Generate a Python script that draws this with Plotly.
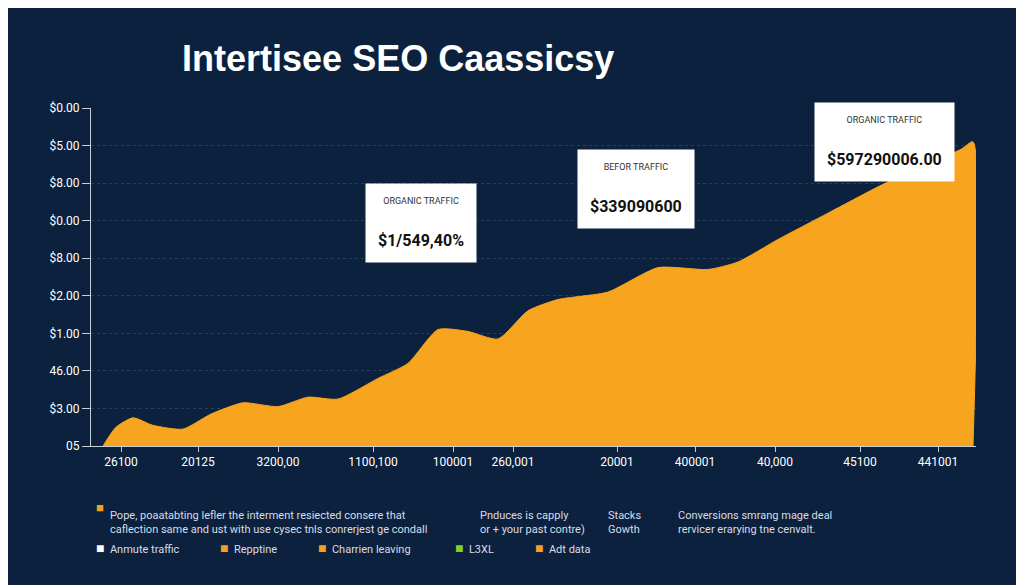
import plotly.graph_objects as go

# traffic curve (x in plot units, y in tick-step units)
curve_x = [12, 25, 42, 62, 92, 120, 152, 187, 217, 247, 287, 317, 347, 377, 407, 437, 467, 517, 567, 617, 647, 687, 737, 787, 827, 870, 882]
curve_y = [0.0, 0.5, 0.75, 0.55, 0.45, 0.85, 1.15, 1.05, 1.3, 1.25, 1.8, 2.2, 3.1, 3.05, 2.85, 3.6, 3.9, 4.1, 4.75, 4.7, 4.9, 5.5, 6.2, 6.9, 7.4, 7.9, 8.1]

y_tick_text = ["05", "$3.00", "46.00", "$1.00", "$2.00", "$8.00", "$0.00", "$8.00", "$5.00", "$0.00"]
x_tick_pos = [30, 107, 187, 282, 362, 422, 526, 604, 684, 769, 847]
x_tick_text = ["26100", "20125", "3200,00", "1100,100", "100001", "260,001", "20001", "400001", "40,000", "45100", "441001"]

callouts = [
    (330, 5.95, "ORGANIC TRAFFIC", "$1/549,40%"),
    (545, 6.85, "BEFOR TRAFFIC", "$339090600"),
    (793, 8.1, "ORGANIC TRAFFIC", "$597290006.00"),
]

notes = [
    (100, "Pope, poaatabting lefler the interment resiected consere that<br>caflection same and ust with use cysec tnls conrerjest ge condall", True),
    (470, "Pnduces is capply<br>or + your past contre)", False),
    (598, "Stacks<br>Gowth", False),
    (668, "Conversions smrang mage deal<br>rervicer erarying tne cenvalt.", False),
]
legend_items = [("Anmute traffic", "#ffffff"), ("Repptine", "#f5a020"), ("Charrien leaving", "#f5a020"),
                ("L3XL", "#7ed321"), ("Adt data", "#f5a020")]
legend_x = [86, 210, 308, 445, 525]

bg = "#0c213d"
fig = go.Figure()
fig.add_trace(go.Scatter(x=curve_x + [882], y=curve_y + [0], fill="tozeroy", mode="lines",
                         line=dict(color="#f7a41e", width=1, shape="spline", smoothing=0.6),
                         fillcolor="#f7a41e", hoverinfo="skip"))

for cx, cy, head, val in callouts:
    fig.add_annotation(x=cx, y=cy, text=f"<span style='font-size:9px;color:#333'>{head}</span><br><br><b>{val}</b>",
                       showarrow=False, bgcolor="white", borderpad=12, font=dict(color="#111", size=16, family="Roboto"))

for px_, txt, dot in notes:
    fig.add_annotation(xref="paper", yref="paper", x=(px_ - 83) / 885, y=-0.225, xanchor="left", yanchor="middle",
                       text=txt, showarrow=False, align="left", font=dict(color="#d8dde6", size=11, family="Roboto"))
fig.add_annotation(xref="paper", yref="paper", x=(86 - 83) / 885, y=-0.18, xanchor="left", yanchor="middle",
                   text="■", showarrow=False, font=dict(color="#f5a020", size=13))
for lx, (name, col) in zip(legend_x, legend_items):
    fig.add_annotation(xref="paper", yref="paper", x=(lx - 83) / 885, y=-0.33, xanchor="left", showarrow=False,
                       text=f"<span style='color:{col};font-size:14px'>■</span>  {name}",
                       font=dict(color="#d8dde6", size=11, family="Roboto"))

fig.update_layout(
    width=1024, height=585, paper_bgcolor=bg, plot_bgcolor=bg, showlegend=False,
    margin=dict(l=83, r=56, t=100, b=147),
    title=dict(text="<b>Intertisee SEO Caassicsy</b>", x=0.17, y=0.935, font=dict(color="white", size=36, family="Liberation Sans")),
    xaxis=dict(range=[0, 885], tickvals=x_tick_pos, ticktext=x_tick_text, showgrid=False, zeroline=False,
               showline=True, linecolor="#c8ced8", ticks="outside", ticklen=5, tickcolor="#c8ced8",
               tickfont=dict(color="white", size=12, family="Roboto")),
    yaxis=dict(range=[0, 9], tickvals=list(range(10)), ticktext=y_tick_text, showgrid=True, gridcolor="#2c3e5a",
               griddash="dot", zeroline=False, showline=True, linecolor="#c8ced8", ticks="outside", ticklen=8,
               tickcolor="#c8ced8", tickfont=dict(color="white", size=12, family="Roboto")),
)
fig.write_html("out.html")
